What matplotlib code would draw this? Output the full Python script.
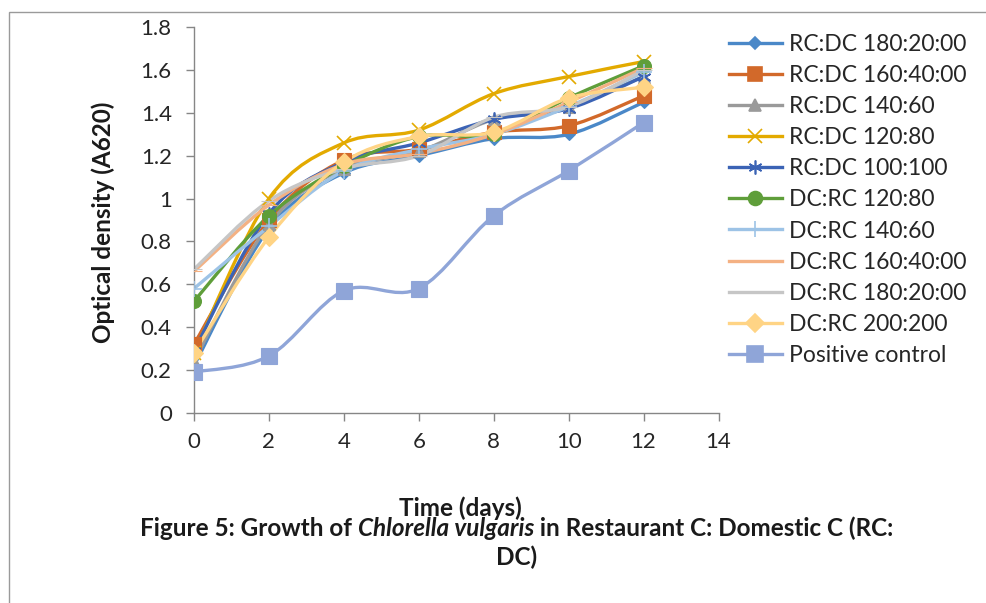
import matplotlib
matplotlib.use("Agg")
import matplotlib.pyplot as plt
import numpy as np
from matplotlib.path import Path
from matplotlib.patches import PathPatch, Rectangle
from matplotlib.lines import Line2D

plt.rcParams['font.family'] = ['Lato', 'DejaVu Sans']

# Optical density readings (A620) over time
days = [0, 2, 4, 6, 8, 10, 12]
rc_dc_180_20 = [0.22, 0.86, 1.12, 1.20, 1.28, 1.30, 1.45]
rc_dc_160_40 = [0.32, 0.90, 1.18, 1.23, 1.31, 1.34, 1.48]
rc_dc_140_60 = [0.24, 0.88, 1.14, 1.22, 1.37, 1.43, 1.57]
rc_dc_120_80 = [0.28, 1.00, 1.26, 1.32, 1.49, 1.57, 1.64]
rc_dc_100_100 = [0.29, 0.93, 1.17, 1.26, 1.37, 1.42, 1.57]
dc_rc_120_80 = [0.52, 0.92, 1.15, 1.29, 1.30, 1.47, 1.62]
dc_rc_140_60 = [0.58, 0.87, 1.13, 1.23, 1.30, 1.43, 1.59]
dc_rc_160_40 = [0.66, 0.97, 1.16, 1.21, 1.30, 1.45, 1.61]
dc_rc_180_20 = [0.67, 0.99, 1.14, 1.20, 1.38, 1.43, 1.60]
dc_rc_200_200 = [0.28, 0.82, 1.17, 1.29, 1.31, 1.47, 1.52]
positive_control = [0.19, 0.265, 0.57, 0.58, 0.92, 1.13, 1.355]

labels = ['RC:DC 180:20:00', 'RC:DC 160:40:00', 'RC:DC 140:60', 'RC:DC 120:80',
          'RC:DC 100:100', 'DC:RC 120:80', 'DC:RC 140:60', 'DC:RC 160:40:00',
          'DC:RC 180:20:00', 'DC:RC 200:200', 'Positive control']
series = [rc_dc_180_20, rc_dc_160_40, rc_dc_140_60, rc_dc_120_80, rc_dc_100_100,
          dc_rc_120_80, dc_rc_140_60, dc_rc_160_40, dc_rc_180_20, dc_rc_200_200,
          positive_control]

colors = ['#4A88C8', '#D2692A', '#9A9A9A', '#E3AA00', '#3B63B5', '#5F9E3A',
          '#9DC3E6', '#F4B183', '#C6C6C6', '#FFD485', '#8FA5D8']
markers = ['D', 's', '^', 'x', (6, 2, 0), 'o', '+', '_', '_', 'D', 's']
msizes = [6, 10, 8, 10, 10, 10, 12, 12, 12, 9, 11]


def smooth_path(xs, ys):
    # Excel-style smoothed line: cubic Bezier through every point
    pts = np.column_stack([xs, ys]).astype(float)
    ext = np.vstack([pts[0], pts, pts[-1]])
    verts = [pts[0]]
    codes = [Path.MOVETO]
    for i in range(len(pts) - 1):
        p0, p1, p2, p3 = ext[i], ext[i + 1], ext[i + 2], ext[i + 3]
        c1 = p1 + (p2 - p0) / 6.0
        c2 = p2 - (p3 - p1) / 6.0
        verts += [c1, c2, p2]
        codes += [Path.CURVE4] * 3
    return Path(verts, codes)


fig = plt.figure(figsize=(9.87, 6.03), dpi=100)
ax = fig.add_axes([194 / 987, 1 - 412.7 / 603, (718.5 - 194) / 987, (412.7 - 27.3) / 603])

handles = []
for vals, lab, col, mk, ms in zip(series, labels, colors, markers, msizes):
    patch = PathPatch(smooth_path(days, vals), facecolor='none', edgecolor=col,
                      linewidth=2.4, capstyle='round', joinstyle='round', zorder=2)
    ax.add_patch(patch)
    ax.plot(days, vals, linestyle='none', marker=mk, markersize=ms, color=col,
            markeredgewidth=1.2 if mk in ('x', '+', (6, 2, 0)) else 0.8, zorder=3)
    leg_mk = None if mk == '_' else mk
    handles.append(Line2D([], [], color=col, linewidth=2.4, marker=leg_mk,
                          markersize=ms, markeredgewidth=1.2, label=lab))

ax.set_xlim(0, 14)
ax.set_ylim(0, 1.8)
ax.set_xticks(range(0, 15, 2))
ax.set_yticks(np.arange(0, 1.81, 0.2))
ax.set_yticklabels(['0', '0.2', '0.4', '0.6', '0.8', '1', '1.2', '1.4', '1.6', '1.8'])

for side in ('top', 'right'):
    ax.spines[side].set_visible(False)
for side in ('left', 'bottom'):
    ax.spines[side].set_color('#868686')
    ax.spines[side].set_linewidth(1.0)
ax.tick_params(axis='both', colors='#868686', labelcolor='#262626', labelsize=16,
               length=6, width=1.0, direction='out')
ax.tick_params(axis='x', pad=8)
ax.tick_params(axis='y', pad=10)

fig.text(103 / 987, 1 - 222 / 603, 'Optical density (A620)', rotation=90,
         ha='center', va='center', fontsize=17.5, fontweight='bold', color='#1a1a1a')
fig.text(460 / 987, 1 - 508 / 603, 'Time (days)', ha='center', va='center',
         fontsize=17.5, fontweight='bold', color='#1a1a1a')

leg = fig.legend(handles=handles, loc='upper left', bbox_to_anchor=(729 / 987, 1 - 34 / 603),
                 frameon=False, fontsize=16.5, handlelength=2.3, handletextpad=0.3,
                 labelspacing=0.44, borderaxespad=0, borderpad=0)
for t in leg.get_texts():
    t.set_color('#262626')

# Caption below the plot, with the species name in italics
y1 = 1 - 528 / 603
parts = [('Figure 5: Growth of ', 'normal'), ('Chlorella vulgaris', 'italic'),
         (' in Restaurant C: Domestic C (RC:', 'normal')]
fig.canvas.draw()
renderer = fig.canvas.get_renderer()
texts = []
for s, style in parts:
    t = fig.text(0, y1, s, ha='left', va='center', fontsize=17.5, fontweight='bold',
                 style=style, color='#1a1a1a')
    texts.append(t)
widths = [t.get_window_extent(renderer).width for t in texts]
total = sum(widths)
x = 517 - total / 2
for t, w in zip(texts, widths):
    t.set_x(x / 987)
    x += w
fig.text(517 / 987, 1 - 557 / 603, 'DC)', ha='center', va='center', fontsize=17.5,
         fontweight='bold', color='#1a1a1a')

# Chart border
fig.add_artist(Rectangle((9 / 987, -0.05), 1.1, 1 - 12 / 603 + 0.05,
                         transform=fig.transFigure, fill=False,
                         edgecolor='#9a9a9a', linewidth=1.0))

fig.savefig('out.png', dpi=100)
